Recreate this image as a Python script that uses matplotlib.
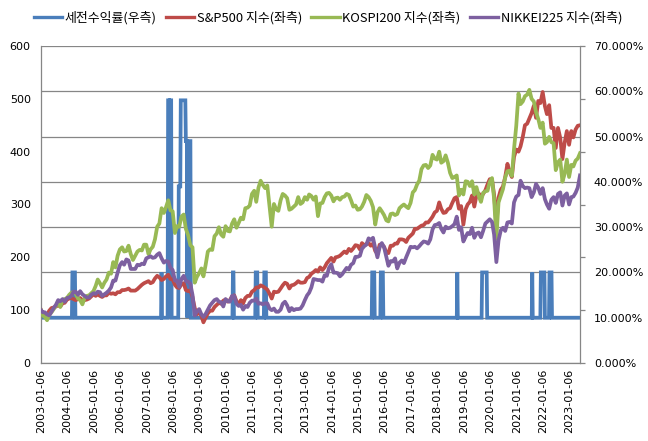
import matplotlib
matplotlib.use('Agg')
import matplotlib.pyplot as plt
import pandas as pd
from matplotlib.ticker import FuncFormatter

plt.rcParams['font.family'] = ['Noto Sans CJK KR', 'DejaVu Sans']

# ---------------- data ----------------
start_date = '2003-01-06'
month_end_first = '2003-01-31'
month_end_last = '2023-05-31'

sp500 = [100,
 92, 91, 91, 99, 104, 105, 107, 109, 107, 113, 114, 120,
 122, 123, 121, 119, 121, 123, 119, 119, 120, 122, 126, 130,
 127, 130, 127, 125, 128, 128, 133, 131, 132, 130, 134, 134,
 138, 138, 139, 141, 137, 137, 137, 140, 144, 148, 151, 153,
 155, 151, 153, 160, 165, 162, 157, 159, 164, 167, 159, 158,
 148, 143, 142, 149, 151, 138, 136, 138, 125, 104, 92, 97,
 89, 77, 86, 94, 99, 99, 106, 110, 114, 112, 118, 120,
 116, 119, 126, 128, 117, 111, 119, 113, 123, 127, 127, 135,
 138, 143, 143, 147, 145, 142, 139, 131, 122, 135, 134, 135,
 141, 147, 152, 150, 141, 147, 148, 151, 155, 152, 152, 153,
 161, 163, 169, 172, 176, 173, 181, 176, 181, 189, 194, 199,
 192, 200, 201, 203, 207, 211, 208, 216, 212, 217, 223, 222,
 215, 227, 223, 225, 227, 222, 226, 212, 207, 224, 224, 220,
 209, 208, 222, 222, 226, 226, 234, 234, 233, 229, 237, 241,
 245, 254, 254, 257, 260, 261, 266, 266, 271, 277, 285, 288,
 304, 292, 284, 285, 291, 293, 303, 312, 314, 292, 297, 262,
 291, 300, 305, 317, 296, 317, 321, 315, 320, 327, 338, 348,
 347, 318, 262, 313, 328, 334, 352, 377, 362, 352, 390, 404,
 400, 410, 428, 450, 453, 463, 473, 487, 464, 496, 492, 513,
 486, 471, 488, 445, 445, 407, 445, 426, 386, 417, 439, 413,
 439, 427, 442, 449, 450]

kospi200 = [100,
 90, 87, 81, 91, 96, 102, 108, 115, 106, 119, 121, 123,
 129, 133, 134, 131, 122, 119, 111, 123, 127, 128, 132, 136,
 146, 158, 151, 143, 152, 158, 171, 169, 191, 181, 203, 215,
 219, 211, 212, 222, 206, 195, 203, 211, 214, 213, 224, 224,
 206, 215, 220, 234, 258, 264, 293, 284, 295, 308, 289, 287,
 246, 259, 258, 277, 281, 254, 242, 223, 219, 152, 163, 170,
 179, 164, 186, 211, 215, 214, 240, 245, 257, 243, 239, 259,
 250, 249, 264, 272, 256, 265, 275, 272, 293, 294, 298, 320,
 326, 305, 332, 345, 337, 331, 336, 296, 258, 301, 291, 288,
 308, 320, 317, 312, 290, 292, 296, 300, 314, 301, 304, 314,
 309, 319, 316, 309, 315, 278, 302, 303, 314, 321, 322, 317,
 306, 312, 313, 309, 314, 315, 320, 318, 308, 296, 298, 290,
 291, 296, 305, 318, 314, 307, 295, 262, 285, 293, 287, 280,
 270, 268, 282, 283, 280, 282, 293, 297, 300, 296, 293, 303,
 323, 327, 338, 345, 367, 374, 375, 369, 374, 394, 387, 385,
 400, 379, 382, 393, 379, 360, 350, 352, 355, 317, 328, 319,
 344, 343, 335, 344, 319, 333, 316, 305, 322, 325, 326, 343,
 350, 310, 235, 304, 317, 329, 351, 363, 364, 354, 405, 449,
 510, 490, 495, 505, 508, 517, 500, 495, 475, 462, 445, 455,
 415, 418, 428, 418, 416, 365, 380, 385, 343, 358, 385, 352,
 375, 372, 383, 387, 397]

nikkei225 = [100,
 96, 96, 92, 90, 97, 104, 110, 119, 117, 121, 116, 123,
 124, 127, 135, 135, 129, 136, 130, 127, 124, 124, 129, 132,
 131, 135, 134, 127, 130, 133, 137, 143, 156, 156, 171, 185,
 191, 186, 196, 194, 178, 178, 178, 186, 185, 188, 187, 198,
 200, 202, 199, 200, 205, 208, 198, 190, 193, 192, 180, 176,
 156, 156, 144, 159, 165, 155, 154, 150, 129, 90, 98, 102,
 92, 87, 93, 101, 109, 114, 119, 121, 116, 115, 107, 121,
 117, 116, 127, 127, 112, 108, 110, 101, 108, 106, 114, 118,
 118, 122, 112, 113, 111, 113, 113, 103, 100, 103, 97, 97,
 101, 112, 116, 109, 98, 104, 100, 102, 102, 103, 109, 119,
 128, 133, 143, 159, 158, 157, 157, 154, 166, 165, 180, 187,
 171, 171, 170, 164, 168, 174, 180, 177, 186, 189, 201, 201,
 203, 216, 221, 224, 236, 233, 237, 217, 200, 219, 227, 219,
 201, 184, 193, 192, 198, 179, 190, 194, 189, 200, 210, 220,
 219, 220, 217, 221, 226, 230, 229, 226, 234, 253, 261, 262,
 265, 254, 247, 258, 255, 256, 259, 263, 277, 252, 257, 230,
 239, 246, 244, 256, 237, 245, 247, 238, 250, 264, 268, 272,
 267, 243, 191, 232, 251, 256, 250, 266, 267, 264, 304, 315,
 318, 345, 335, 331, 332, 331, 314, 323, 339, 332, 320, 331,
 310, 300, 292, 309, 314, 303, 320, 323, 298, 317, 321, 300,
 314, 315, 322, 332, 355]

# pre-tax return (%) — change points of the weekly series
ret_dates = [
 '2003-01-06', '2004-03-08', '2004-03-15', '2004-04-19', '2004-04-26',
 '2007-07-23', '2007-07-30', '2007-08-06',
 '2007-10-22', '2007-10-29', '2007-11-12', '2007-11-19', '2007-11-26',
 '2007-12-10', '2007-12-17',
 '2008-03-17', '2008-03-24', '2008-04-14', '2008-04-21', '2008-06-23', '2008-06-30',
 '2008-07-14', '2008-07-21', '2008-07-28', '2008-09-01', '2008-09-08',
 '2010-04-05', '2010-04-12', '2010-04-19', '2010-04-26',
 '2011-02-14', '2011-02-21', '2011-03-14', '2011-03-21',
 '2011-06-13', '2011-06-20', '2011-07-11', '2011-07-18',
 '2015-07-13', '2015-07-20', '2015-08-17', '2015-08-24',
 '2015-11-09', '2015-11-16', '2015-12-14', '2015-12-21',
 '2018-10-01', '2018-10-08', '2018-10-15',
 '2019-09-09', '2019-09-16', '2019-11-18', '2019-11-25',
 '2021-08-02', '2021-08-09', '2021-08-16',
 '2021-11-29', '2021-12-06', '2022-01-24', '2022-01-31',
 '2022-03-28', '2022-04-04', '2022-05-02', '2022-05-09',
 '2023-05-31']
ret_vals = [
 10, 10, 20, 20, 10,
 10, 20, 10,
 10, 58, 58, 10, 58,
 58, 10,
 10, 39, 39, 58, 58, 49,
 49, 10, 49, 49, 10,
 10, 20, 20, 10,
 10, 20, 20, 10,
 10, 20, 20, 10,
 10, 20, 20, 10,
 10, 20, 20, 10,
 10, 20, 10,
 10, 20, 20, 10,
 10, 20, 10,
 10, 20, 20, 10,
 10, 20, 20, 10,
 10]

labels = ['세전수익률(우측)', 'S&P500 지수(좌측)', 'KOSPI200 지수(좌측)', 'NIKKEI225 지수(좌측)']
colors = ['#4A7EBB', '#BE4B48', '#98B954', '#7D60A0']
year_ticks = [f'{y}-01-06' for y in range(2003, 2024)]

# ---------------- plot ----------------
dates = pd.DatetimeIndex([pd.Timestamp(start_date)]).append(
    pd.date_range(month_end_first, month_end_last, freq='ME'))
rdates = pd.to_datetime(ret_dates)

fig = plt.figure(figsize=(6.48, 4.41), dpi=100)
rect = [41/648, 1-363/441, (580-41)/648, (363-46)/441]
ax = fig.add_axes(rect)
ax2 = ax.twinx()
ax.set_zorder(2)
ax2.set_zorder(1)
ax.patch.set_visible(False)

grid_c = '#868686'
lw = 2.7
h0, = ax2.plot(rdates, ret_vals, color=colors[0], lw=lw, solid_joinstyle='miter')
h1, = ax.plot(dates, sp500, color=colors[1], lw=lw)
h2, = ax.plot(dates, kospi200, color=colors[2], lw=lw)
h3, = ax.plot(dates, nikkei225, color=colors[3], lw=lw)

ax.set_ylim(0, 600)
ax.set_yticks(range(0, 601, 100))
ax2.set_ylim(0, 70)
ax2.set_yticks(range(0, 71, 10))
ax2.yaxis.set_major_formatter(FuncFormatter(lambda v, p: f'{v:.3f}%'))
ax2.grid(axis='y', color=grid_c, lw=0.9)
ax2.set_axisbelow(True)

ax.set_xlim(pd.Timestamp(start_date), pd.Timestamp('2023-05-31'))
ax.set_xticks(pd.to_datetime(year_ticks))
ax.set_xticklabels(year_ticks, rotation=90, fontsize=8, family='DejaVu Sans')
ax.tick_params(axis='x', length=0, pad=4)

ax.tick_params(axis='y', left=False, right=True, labelleft=True, labelright=False,
               direction='out', length=3.6, width=0.9, color=grid_c, pad=3.8, labelsize=8)
ax2.tick_params(axis='y', length=0, pad=10, labelsize=8)
for lab in ax.get_yticklabels() + ax2.get_yticklabels():
    lab.set_family('DejaVu Sans')

for s in ax.spines.values():
    s.set_visible(False)
for k in ['left', 'right', 'bottom']:
    ax2.spines[k].set_color(grid_c)
    ax2.spines[k].set_linewidth(0.9)
ax2.spines['top'].set_visible(False)

leg = fig.legend([h0, h1, h2, h3], labels, loc='center', bbox_to_anchor=(0.506, 0.959),
                 ncol=4, frameon=False, fontsize=9.3, handlelength=2.2, handletextpad=0.2,
                 columnspacing=0.7)
for l in leg.get_lines():
    l.set_linewidth(2.4)

fig.savefig('out.png', dpi=100)
